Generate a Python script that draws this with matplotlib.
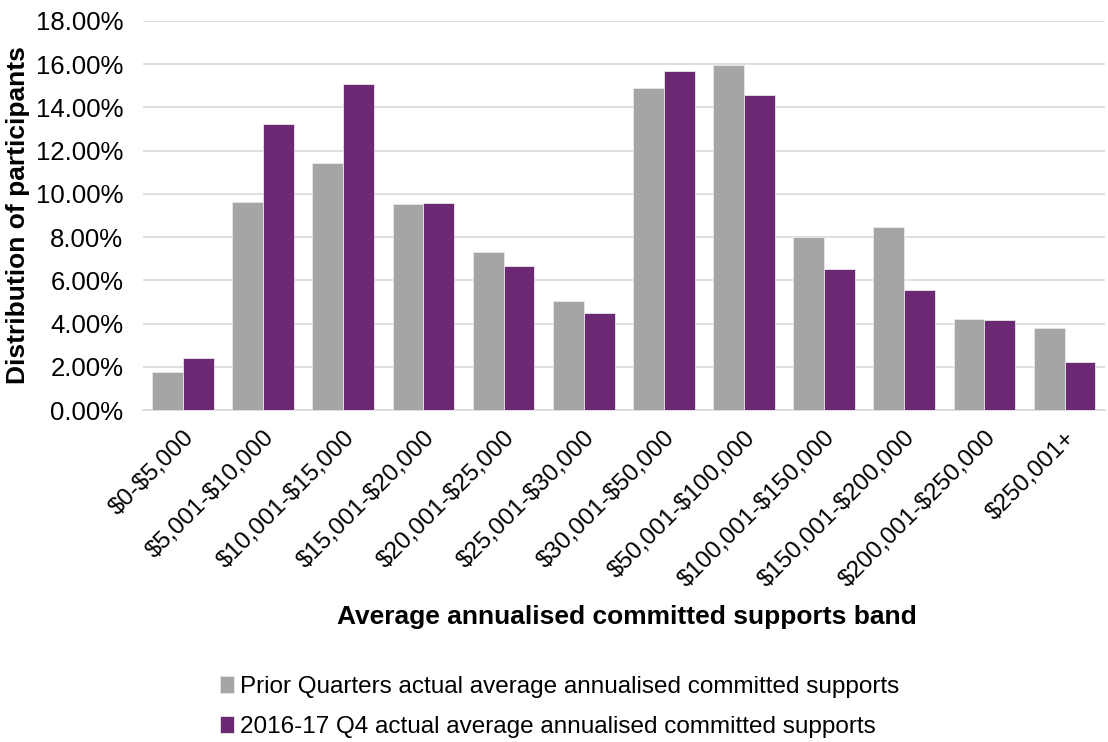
import numpy as np
import matplotlib
matplotlib.use("Agg")
from matplotlib import pyplot as plt
from matplotlib.ticker import FuncFormatter

plt.rcParams['font.family'] = ['Liberation Sans', 'DejaVu Sans']

bands = ["$0-$5,000", "$5,001-$10,000", "$10,001-$15,000", "$15,001-$20,000",
         "$20,001-$25,000", "$25,001-$30,000", "$30,001-$50,000", "$50,001-$100,000",
         "$100,001-$150,000", "$150,001-$200,000", "$200,001-$250,000", "$250,001+"]
prior = [1.76, 9.63, 11.43, 9.55, 7.31, 5.05, 14.88, 15.97, 8.01, 8.47, 4.21, 3.80]
q4 = [2.42, 13.24, 15.09, 9.60, 6.65, 4.49, 15.67, 14.58, 6.53, 5.56, 4.15, 2.22]

grey = '#A5A5A5'
purple = '#6B2873'

fig = plt.figure(figsize=(11.08, 7.42), dpi=100)
ax = fig.add_axes([0.129, 0.4474, 0.868, 0.5243])

x = np.arange(len(bands))
w = 0.385
ax.bar(x - w/2, prior, w, color=grey, edgecolor='#E8E8E8', linewidth=0.6,
       label='Prior Quarters actual average annualised committed supports', zorder=3)
ax.bar(x + w/2, q4, w, color=purple, edgecolor='#E8E8E8', linewidth=0.6,
       label='2016-17 Q4 actual average annualised committed supports', zorder=3)

ax.set_xlim(-0.5, len(bands) - 0.5)
ax.set_ylim(0, 18)
ax.set_yticks(np.arange(0, 18.01, 2))
ax.yaxis.set_major_formatter(FuncFormatter(lambda v, p: "%.2f%%" % v))
ax.grid(axis='y', color='#D9D9D9', linewidth=1.2, zorder=0)
ax.set_axisbelow(True)
for s in ['top', 'right', 'left']:
    ax.spines[s].set_visible(False)
ax.spines['bottom'].set_color('#D9D9D9')
ax.spines['bottom'].set_linewidth(1.2)
ax.tick_params(axis='x', length=0, labelsize=17.5, labelcolor='#000000', pad=12)
ax.tick_params(axis='y', length=0, labelsize=18.5, labelcolor='#000000', pad=14)

ax.set_xticks(x)
ax.set_xticklabels([b.replace('$', r'\$') for b in bands], rotation=45, ha='right',
                   rotation_mode='anchor')

ax.set_ylabel("Distribution of participants", fontsize=19, fontweight='bold', labelpad=4)
fig.text(0.566, 0.168, "Average annualised committed supports band", fontsize=19,
         fontweight='bold', ha='center', va='center')

fig.legend(loc='upper left', bbox_to_anchor=(0.19, 0.102), frameon=False, fontsize=17.5,
           handlelength=0.55, handleheight=0.7, handletextpad=0.25, labelspacing=0.75,
           borderaxespad=0)

fig.savefig("out.png", dpi=100)
